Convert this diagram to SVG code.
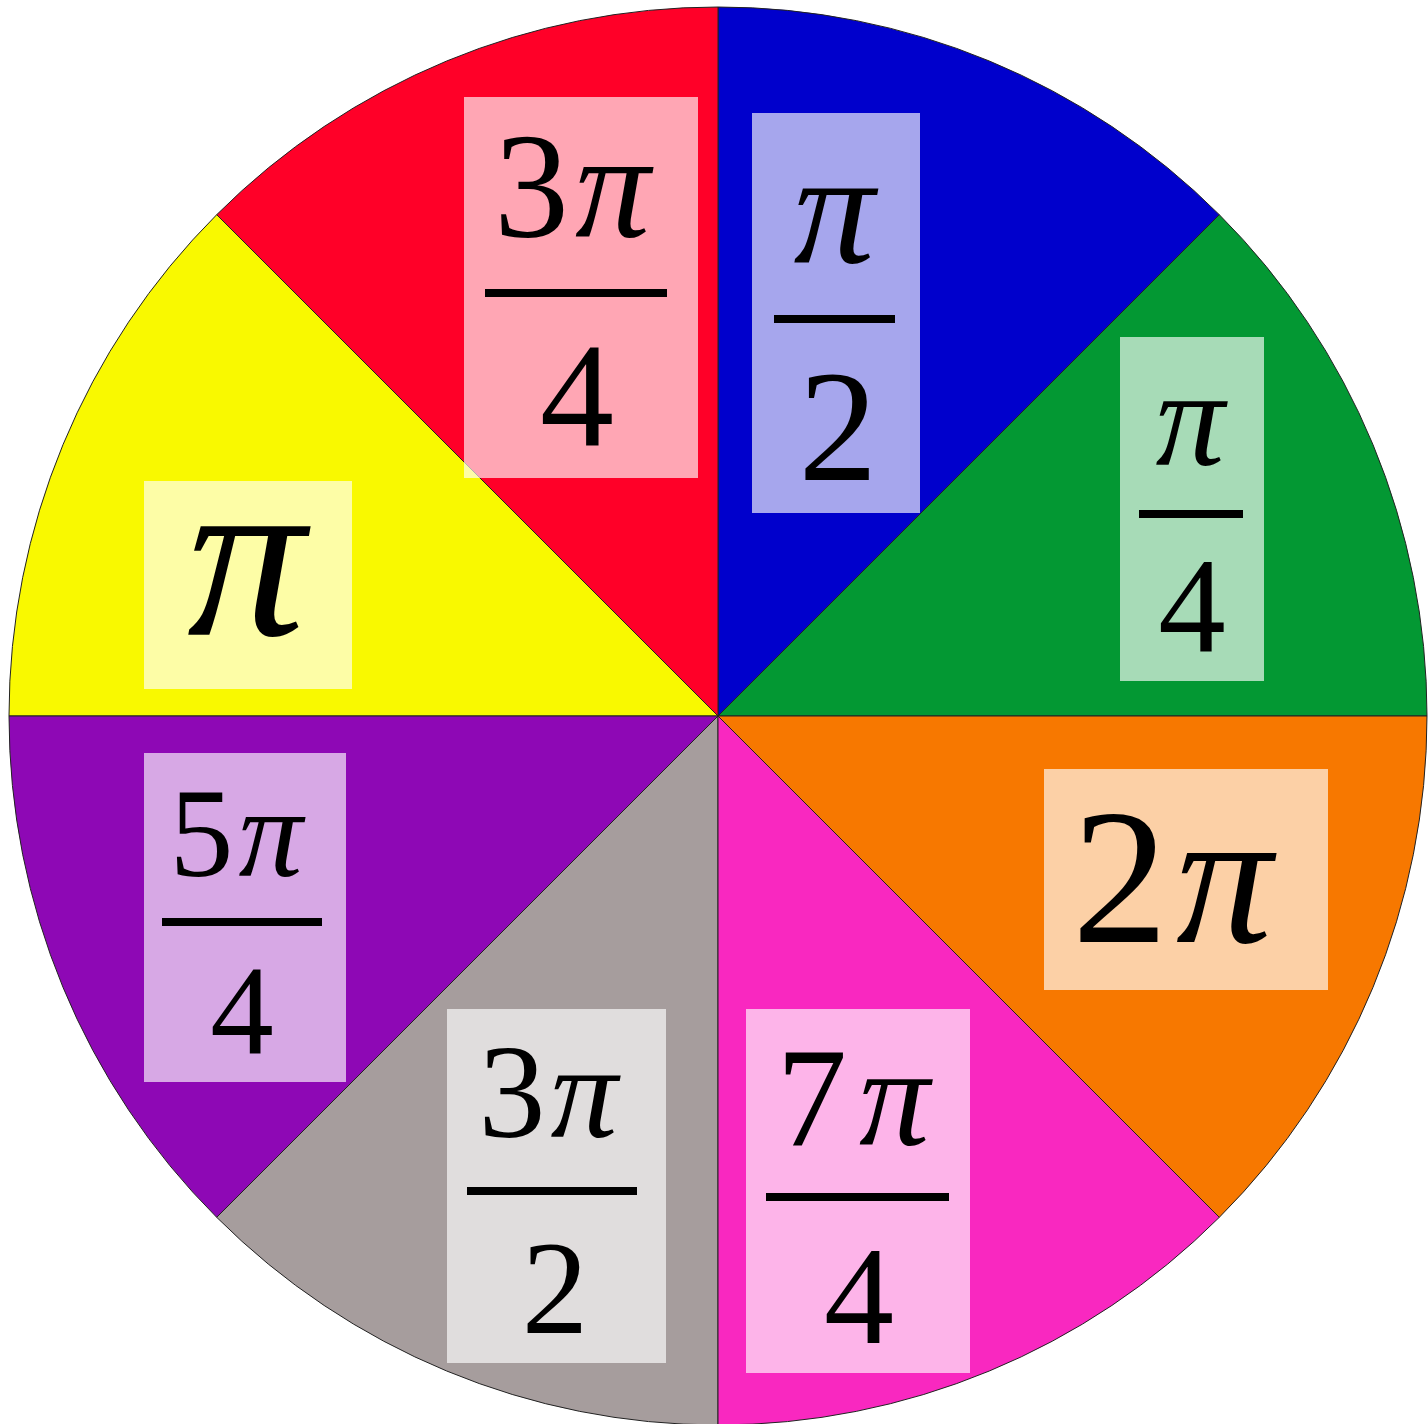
<svg xmlns="http://www.w3.org/2000/svg" width="1428" height="1424" viewBox="0 0 1428 1424">
<style>
.sec{stroke:#222;stroke-width:1}
.box{fill:#fff;fill-opacity:0.65}
.t{font-family:"Liberation Serif","Times New Roman",serif;fill:#000;text-anchor:middle}
.pi{font-style:italic}
.bar{stroke:#000;stroke-width:8}
</style>
<rect width="1428" height="1424" fill="#fff"/>
<g id="sectors">
<path id="s-green" class="sec" fill="#039833" d="M718,716 L1427,716 A709,709 0 0 0 1219.3,214.7 Z"/>
<path id="s-blue" class="sec" fill="#0000CC" d="M718,716 L1219.3,214.7 A709,709 0 0 0 718,7 Z"/>
<path id="s-red" class="sec" fill="#FF0028" d="M718,716 L718,7 A709,709 0 0 0 216.7,214.7 Z"/>
<path id="s-yellow" class="sec" fill="#F9F900" d="M718,716 L216.7,214.7 A709,709 0 0 0 9,716 Z"/>
<path id="s-purple" class="sec" fill="#8E08B5" d="M718,716 L9,716 A709,709 0 0 0 216.7,1217.3 Z"/>
<path id="s-gray" class="sec" fill="#A69D9D" d="M718,716 L216.7,1217.3 A709,709 0 0 0 718,1425 Z"/>
<path id="s-pink" class="sec" fill="#F928C0" d="M718,716 L718,1425 A709,709 0 0 0 1219.3,1217.3 Z"/>
<path id="s-orange" class="sec" fill="#F77800" d="M718,716 L1219.3,1217.3 A709,709 0 0 0 1427,716 Z"/>
</g>
<g id="label-3pi4">
<rect class="box" x="464" y="97" width="234" height="381"/>
<text class="t" x="572" y="237" font-size="150">3<tspan class="pi" dx="6">π</tspan></text>
<line class="bar" x1="485" y1="293" x2="667" y2="293"/>
<text class="t" x="577" y="445" font-size="148">4</text>
</g>
<g id="label-pi2">
<rect class="box" x="752" y="113" width="168" height="400"/>
<text class="t pi" x="834" y="262" font-size="162">π</text>
<line class="bar" x1="774" y1="319" x2="895" y2="319"/>
<text class="t" x="838" y="480" font-size="158">2</text>
</g>
<g id="label-pi4">
<rect class="box" x="1120" y="337" width="144" height="344"/>
<text class="t pi" x="1190" y="465" font-size="138">π</text>
<line class="bar" x1="1139" y1="514" x2="1243" y2="514"/>
<text class="t" x="1192" y="652" font-size="135">4</text>
</g>
<g id="label-pi">
<rect class="box" x="144" y="481" width="208" height="208"/>
<text class="t pi" x="246" y="635" font-size="236">π</text>
</g>
<g id="label-2pi">
<rect class="box" x="1044" y="769" width="284" height="221"/>
<text class="t" x="1172" y="942" font-size="192">2<tspan class="pi" dx="8">π</tspan></text>
</g>
<g id="label-5pi4">
<rect class="box" x="144" y="753" width="202" height="329"/>
<text class="t" x="236" y="876" font-size="128">5<tspan class="pi" dx="5">π</tspan></text>
<line class="bar" x1="162" y1="922" x2="322" y2="922"/>
<text class="t" x="242" y="1053" font-size="127">4</text>
</g>
<g id="label-3pi2">
<rect class="box" x="447" y="1009" width="219" height="354"/>
<text class="t" x="548" y="1137" font-size="134">3<tspan class="pi" dx="5">π</tspan></text>
<line class="bar" x1="467" y1="1191" x2="637" y2="1191"/>
<text class="t" x="555" y="1333" font-size="133">2</text>
</g>
<g id="label-7pi4">
<rect class="box" x="746" y="1009" width="224" height="364"/>
<text class="t" x="853" y="1145" font-size="141">7<tspan class="pi" dx="12">π</tspan></text>
<line class="bar" x1="766" y1="1197" x2="949" y2="1197"/>
<text class="t" x="859" y="1343" font-size="140">4</text>
</g>
</svg>
